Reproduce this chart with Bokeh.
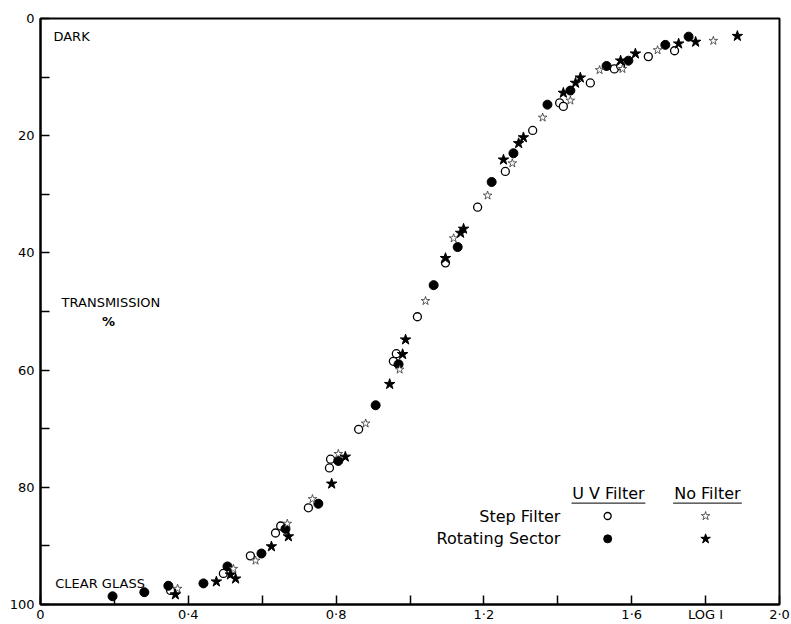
from bokeh.plotting import figure
from bokeh.models import Range1d, FixedTicker
from bokeh.core.properties import value
from bokeh.embed import file_html
from bokeh.resources import INLINE

# Step filter, UV filter (open circles)
sf_uv_x = [0.352, 0.495, 0.568, 0.636, 0.650, 0.725, 0.782, 0.785, 0.861, 0.955, 0.963,
           1.020, 1.096, 1.183, 1.258, 1.332, 1.405, 1.415, 1.488, 1.553, 1.570, 1.645, 1.716]
sf_uv_y = [97.6, 94.7, 91.7, 87.8, 86.6, 83.5, 76.7, 75.2, 70.1, 58.5, 57.2,
           50.9, 41.7, 32.2, 26.1, 19.1, 14.4, 15.0, 11.0, 8.6, 8.1, 6.5, 5.5]
# Rotating sector, UV filter (filled circles)
rs_uv_x = [0.195, 0.281, 0.346, 0.441, 0.506, 0.598, 0.663, 0.752, 0.806, 0.907, 0.969,
           1.064, 1.129, 1.221, 1.280, 1.372, 1.434, 1.532, 1.591, 1.691, 1.754]
rs_uv_y = [98.6, 97.9, 96.8, 96.4, 93.5, 91.3, 87.1, 82.8, 75.5, 66.0, 59.0,
           45.5, 39.0, 27.9, 23.0, 14.7, 12.3, 8.1, 7.2, 4.5, 3.1]
# Step filter, no filter (open stars)
sf_nf_x = [0.371, 0.522, 0.582, 0.668, 0.736, 0.806, 0.880, 0.972, 1.042, 1.118, 1.210,
           1.277, 1.359, 1.434, 1.513, 1.575, 1.670, 1.821]
sf_nf_y = [97.3, 93.9, 92.5, 86.2, 82.0, 74.3, 69.1, 59.9, 48.2, 37.5, 30.2,
           24.7, 16.9, 14.0, 8.8, 8.6, 5.4, 3.8]
# Rotating sector, no filter (filled stars)
rs_nf_x = [0.365, 0.476, 0.514, 0.528, 0.625, 0.671, 0.788, 0.825, 0.945, 0.980, 0.988,
           1.096, 1.137, 1.145, 1.253, 1.294, 1.307, 1.415, 1.448, 1.461, 1.570, 1.610,
           1.727, 1.773, 1.886]
rs_nf_y = [98.3, 96.1, 94.9, 95.6, 90.1, 88.4, 79.4, 74.8, 62.4, 57.3, 54.8,
           40.9, 36.6, 35.9, 24.1, 21.3, 20.3, 12.7, 11.0, 10.1, 7.2, 6.0,
           4.3, 4.0, 3.0]

x_ticks = [0.0, 0.2, 0.4, 0.6, 0.8, 1.0, 1.2, 1.4, 1.6, 1.8, 2.0]
x_tick_labels = ["0", "", "0·4", "", "0·8", "", "1·2", "", "1·6", "LOG I", "2·0"]
y_ticks = [0, 10, 20, 30, 40, 50, 60, 70, 80, 90, 100]
y_tick_labels = ["0", "", "20", "", "40", "", "60", "", "80", "", "100"]

FONT = "DejaVu Sans"

p = figure(width=791, height=624, output_backend="svg", toolbar_location=None,
           x_range=Range1d(0, 2.0), y_range=Range1d(100, 0),
           min_border_left=40, min_border_right=12, min_border_top=18, min_border_bottom=18)
p.grid.visible = False
p.outline_line_color = "black"
p.outline_line_width = 2
p.background_fill_color = "white"
p.border_fill_color = "white"

for ax, ticks, labels in ((p.xaxis[0], x_ticks, x_tick_labels), (p.yaxis[0], y_ticks, y_tick_labels)):
    ax.ticker = FixedTicker(ticks=ticks)
    ax.major_label_overrides = {t: l for t, l in zip(ticks, labels)}
    ax.major_tick_in = 9
    ax.major_tick_out = 0
    ax.minor_tick_in = 0
    ax.minor_tick_out = 0
    ax.axis_line_width = 2
    ax.major_tick_line_width = 1.5
    ax.major_label_text_font = FONT
    ax.major_label_text_font_size = "13px"
    ax.major_label_text_color = "black"
p.xaxis.major_label_standoff = 2
p.yaxis.major_label_standoff = 6

# data
p.scatter(sf_uv_x, sf_uv_y, marker="circle", size=8, fill_color="white", line_color="black", line_width=1.3)
p.scatter(rs_uv_x, rs_uv_y, marker="circle", size=9, fill_color="black", line_color="black")
p.scatter(sf_nf_x, sf_nf_y, marker="star", size=9, fill_color="white", line_color="#333333", line_width=0.8)
p.scatter(rs_nf_x, rs_nf_y, marker="star", size=11, fill_color="black", line_color="black")

# annotations
ann = dict(text_font=value(FONT), text_font_size="13px", text_color="black", text_baseline="middle")
p.text(x=[0.035], y=[3.0], text=["DARK"], text_align="left", **ann)
p.text(x=[0.057], y=[48.5], text=["TRANSMISSION"], text_align="left", **ann)
p.text(x=[0.184], y=[51.7], text=["%"], text_align="center", text_font_style="bold", **ann)
p.text(x=[0.04], y=[96.4], text=["CLEAR GLASS"], text_align="left", **ann)

# legend
leg = dict(text_font=value(FONT), text_font_size="16px", text_color="black", text_baseline="middle")
p.text(x=[1.537, 1.805], y=[81.0, 81.0], text=["U V Filter", "No Filter"], text_align="center", **leg)
p.segment(x0=[1.437, 1.712], y0=[82.7, 82.7], x1=[1.637, 1.898], y1=[82.7, 82.7], line_color="black", line_width=1)
p.text(x=[1.407, 1.407], y=[84.9, 88.8], text=["Step Filter", "Rotating Sector"], text_align="right", **leg)
p.scatter([1.535], [84.9], marker="circle", size=7, fill_color="white", line_color="black", line_width=1.3)
p.scatter([1.535], [88.8], marker="circle", size=8, fill_color="black", line_color="black")
p.scatter([1.80], [84.9], marker="star", size=9, fill_color="white", line_color="#333333", line_width=0.8)
p.scatter([1.80], [88.8], marker="star", size=10, fill_color="black", line_color="black")

open("out.html", "w").write(file_html(p, INLINE))
